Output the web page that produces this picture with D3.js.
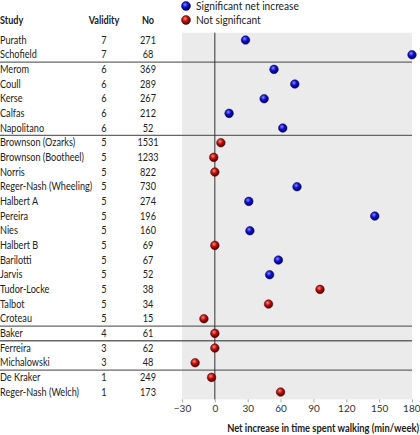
<!DOCTYPE html>
<html><head><meta charset="utf-8">
<script src="https://cdn.jsdelivr.net/npm/d3@7"></script>
<style>
html,body{margin:0;padding:0;background:#fff;}
svg text{font-family:Lato,"Open Sans",sans-serif;fill:#222;}
</style></head>
<body><svg id="c" width="420" height="435"></svg>
<script>
const studies = ["Purath","Schofield","Merom","Coull","Kerse","Calfas","Napolitano","Brownson (Ozarks)","Brownson (Bootheel)","Norris","Reger-Nash (Wheeling)","Halbert A","Pereira","Nies","Halbert B","Barilotti","Jarvis","Tudor-Locke","Talbot","Croteau","Baker","Ferreira","Michalowski","De Kraker","Reger-Nash (Welch)"];
const validity = [7,7,6,6,6,6,6,5,5,5,5,5,5,5,5,5,5,5,5,5,4,3,3,1,1];
const sampleSize = [271,68,369,289,267,212,52,1531,1233,822,730,274,196,160,69,67,52,38,34,15,61,62,48,249,173];
const netIncrease = [28,180,54,73,45,13,62,5.5,-1,0,75,31,146,32,0,58,50,96,49,-10,0,0,-18,-3,60];
const significant = [1,1,1,1,1,1,1,0,0,0,1,1,1,1,0,1,1,0,0,0,0,0,0,0,0];
const xTicks = [-30,0,30,60,90,120,150,180];
const legendLabels = ["Significant net increase","Not significant"];
const headers = ["Study","Validity","No"];
const xTitle = "Net increase in time spent walking (min/week)";

const svg = d3.select("#c");
const defs = svg.append("defs");
function grad(id, light, mid, dark){
  const g = defs.append("radialGradient").attr("id",id).attr("cx","40%").attr("cy","35%").attr("r","65%");
  g.append("stop").attr("offset","0%").attr("stop-color",light);
  g.append("stop").attr("offset","45%").attr("stop-color",mid);
  g.append("stop").attr("offset","100%").attr("stop-color",dark);
}
grad("gBlue","#8a8aff","#1010d0","#000060");
grad("gRed","#ff8a7a","#c01010","#500000");

const x = d3.scaleLinear().domain([-30,180]).range([182,412]);
const y = d3.scaleBand().domain(d3.range(studies.length)).range([32.7,399.4]);
const yc = i => y(i) + y.bandwidth()/2;
const fs = "10.5px", sx = 0.87;
const tf = (px,py,s) => `translate(${px},${py}) scale(${s},1)`;

svg.append("rect").attr("x",x(-30)).attr("y",y.range()[0]).attr("width",x(180)-x(-30)).attr("height",y.range()[1]-y.range()[0]).attr("fill","#ebebeb");

const seps = [];
for(let i=1;i<validity.length;i++) if(validity[i]!==validity[i-1]) seps.push(i);
svg.selectAll("line.sep").data(seps).join("line")
  .attr("x1",0).attr("x2",x(180)).attr("y1",d=>y(d)).attr("y2",d=>y(d))
  .attr("stroke","#666").attr("stroke-width",1.3);

svg.append("line").attr("x1",x(0)).attr("x2",x(0)).attr("y1",y.range()[0]).attr("y2",y.range()[1]).attr("stroke","#333").attr("stroke-width",1);

const ax = svg.append("g").attr("transform",`translate(0,${y.range()[1]})`)
  .call(d3.axisBottom(x).tickValues(xTicks).tickSize(3).tickPadding(3));
ax.select(".domain").remove();
ax.selectAll(".tick line").attr("stroke","#aaa");
ax.selectAll(".tick text").attr("font-family",null).style("font-size","10px").style("fill","#333");
ax.selectAll(".tick").filter(d=>d===180).select("text").attr("text-anchor","end").attr("x",8);

svg.append("text").attr("transform",tf(419,432,0.89)).attr("text-anchor","end")
  .style("font-size","10.5px").style("font-weight","bold").text(xTitle);

const hx = [0,104,148], ha = ["start","middle","middle"];
headers.forEach((h,i)=>svg.append("text").attr("transform",tf(hx[i],24,sx)).attr("text-anchor",ha[i])
  .style("font-size",fs).style("font-weight","bold").text(h));

const rows = svg.selectAll("g.row").data(studies).join("g").attr("class","row");
rows.append("text").attr("transform",(d,i)=>tf(0,yc(i),sx)).attr("dy","0.35em").style("font-size",fs).text(d=>d);
rows.append("text").attr("transform",(d,i)=>tf(104,yc(i),sx)).attr("dy","0.35em").attr("text-anchor","middle").style("font-size",fs).text((d,i)=>validity[i]);
rows.append("text").attr("transform",(d,i)=>tf(148,yc(i),sx)).attr("dy","0.35em").attr("text-anchor","middle").style("font-size",fs).text((d,i)=>sampleSize[i]);

svg.selectAll("circle.dot").data(netIncrease).join("circle").attr("class","dot")
  .attr("cx",d=>x(d)).attr("cy",(d,i)=>yc(i)).attr("r",4.3)
  .attr("fill",(d,i)=>significant[i]?"url(#gBlue)":"url(#gRed)")
  .attr("stroke",(d,i)=>significant[i]?"#000050":"#400000").attr("stroke-width",0.5);

legendLabels.forEach((l,i)=>{
  svg.append("circle").attr("cx",186).attr("cy",6+i*14).attr("r",4.5)
    .attr("fill",i===0?"url(#gBlue)":"url(#gRed)").attr("stroke",i===0?"#000050":"#400000").attr("stroke-width",0.5);
  svg.append("text").attr("transform",tf(196,6+i*14,0.97)).attr("dy","0.35em").style("font-size","10.5px").text(l);
});
</script></body></html>
